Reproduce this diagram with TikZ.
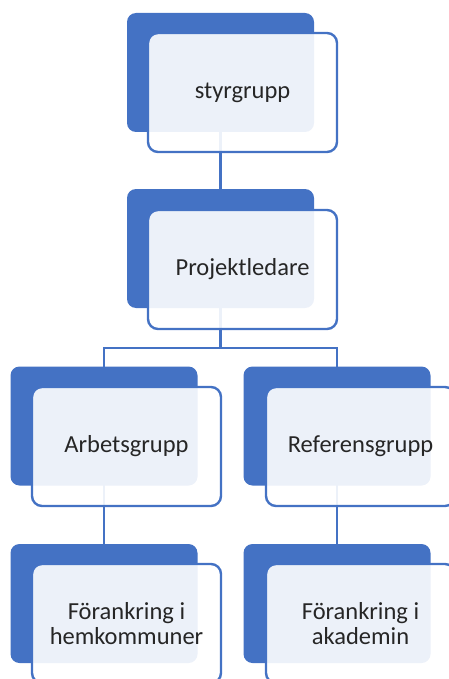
\documentclass[tikz,border=0pt]{standalone}
\usepackage{fontspec}
\setmainfont{Carlito}
\usetikzlibrary{backgrounds}
\definecolor{accent}{HTML}{4472C4}
\definecolor{txt}{HTML}{262626}
\begin{document}
\begin{tikzpicture}[x=1pt,y=-1pt,
  backbox/.style={fill=accent, rounded corners=9pt, minimum width=187pt, minimum height=119pt, inner sep=0pt},
  frontbox/.style={draw=accent, line width=2.4pt, fill=white, fill opacity=0.9, text opacity=1,
    rounded corners=10pt, minimum width=189pt, minimum height=119pt, align=center,
    font=\fontsize{24.5}{25}\selectfont, text=txt, inner sep=0pt},
  link/.style={draw=accent, line width=2.6pt}]
\useasboundingbox (0,0) rectangle (449,679);
% back boxes
\node[backbox] (b1) at (220.5,72.5) {};
\node[backbox] (b2) at (220.5,248.5) {};
\node[backbox] (b3) at (104,426) {};
\node[backbox] (b4) at (337,426) {};
\node[backbox] (b5) at (104,603.5) {};
\node[backbox] (b6) at (337,603.5) {};
% front boxes
\node[frontbox] (f1) at (242.5,92.5) {styrgrupp};
\node[frontbox] (f2) at (242.5,269.5) {Projektledare};
\node[frontbox] (f3) at (126.5,446.5) {Arbetsgrupp};
\node[frontbox] (f4) at (360.5,446.5) {Referensgrupp};
\node[frontbox] (f5) at (126.5,623.5) {Förankring i\\hemkommuner};
\node[frontbox] (f6) at (360.5,623.5) {Förankring i\\akademin};
% connectors
\coordinate (split) at (220.5,348);
\begin{scope}[on background layer]
\draw[link] (b1.center) -- (b2.center);
\draw[link] (b2.center) -- (split);
\draw[link] (b3.center) |- (split) -| (b4.center);
\draw[link] (b3.center) -- (b5.center);
\draw[link] (b4.center) -- (b6.center);
\end{scope}
\end{tikzpicture}
\end{document}
